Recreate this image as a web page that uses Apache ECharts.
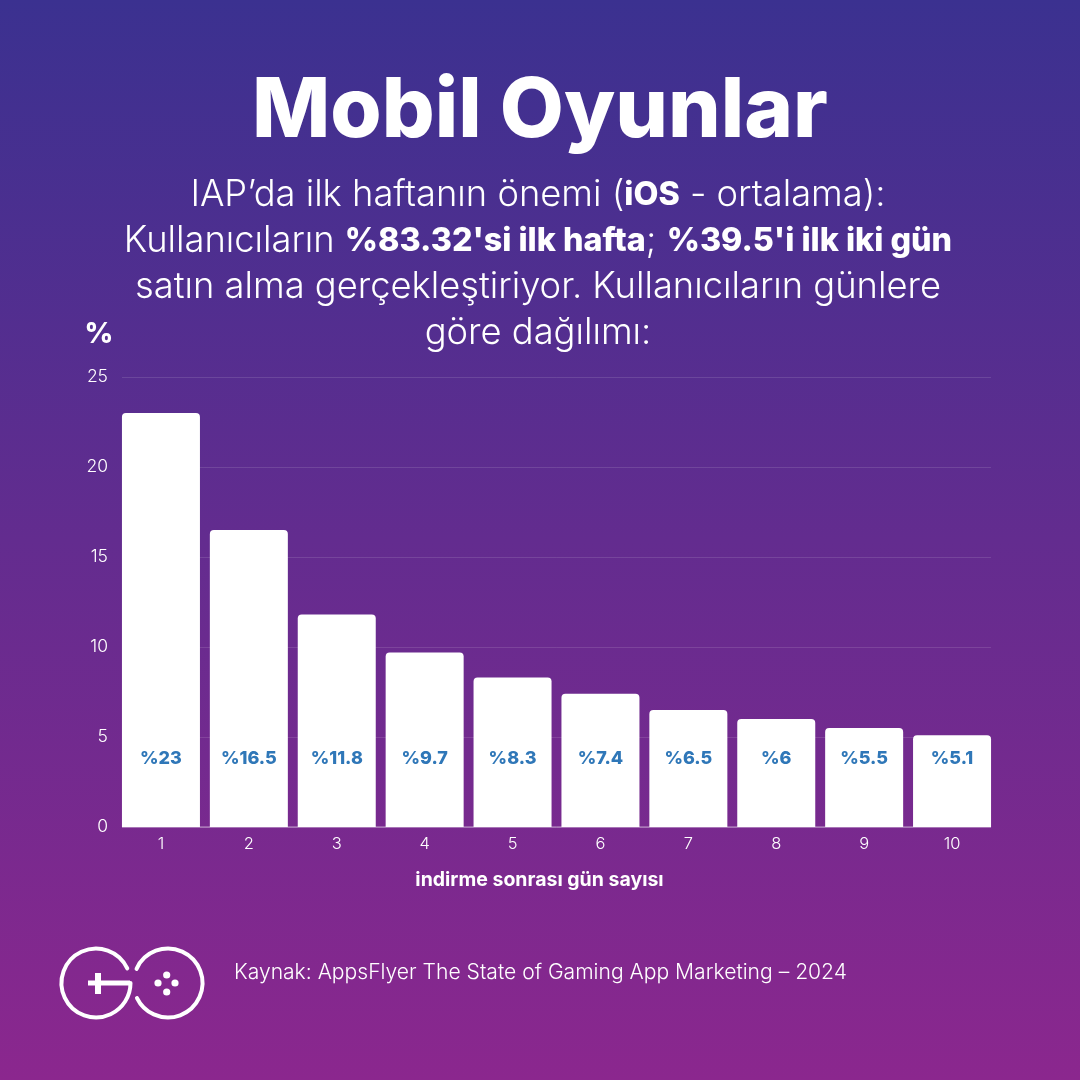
<!DOCTYPE html>
<html><head><meta charset="utf-8">
<style>html,body{margin:0;padding:0;width:1080px;height:1080px;overflow:hidden}#c{width:1080px;height:1080px}</style>
<script src="https://cdn.jsdelivr.net/npm/echarts@6/dist/echarts.min.js"></script></head>
<body><div id="c"></div>
<script>
const days = ['1','2','3','4','5','6','7','8','9','10'];
const shares = [23,16.5,11.8,9.7,8.3,7.4,6.5,6,5.5,5.1];
const yTicks = {min:0,max:25,interval:5};
const FONT = 'Inter';
const LINE = 'rgba(255,255,255,0.12)';
const sub = [
  {y:195,t:'{r|IAP’da ilk haftanın önemi (}{b|iOS}{r| - ortalama):}'},
  {y:241,t:'{r|Kullanıcıların }{b|%83.32\'si ilk hafta}{r|; }{b|%39.5\'i ilk iki gün}'},
  {y:287,t:'{r|satın alma gerçekleştiriyor. Kullanıcıların günlere}'},
  {y:333,t:'{r|göre dağılımı:}'}
];
const rich = {r:{fontFamily:FONT,fontSize:36.3,fontWeight:300,fill:'#fff',color:'#fff'},b:{fontFamily:FONT,fontSize:32.3,fontWeight:800,fill:'#fff',color:'#fff'}};
const rad = d => d*Math.PI/180;
const chart = echarts.init(document.getElementById('c'),null,{renderer:'canvas'});
chart.setOption({
  animation:false,
  backgroundColor:{type:'linear',x:0,y:0,x2:0,y2:1,colorStops:[{offset:0,color:'#3b3190'},{offset:1,color:'#8b278e'}]},
  grid:[
    {left:122,top:377,width:869,height:450},
    {left:117,top:377,width:879,height:450}
  ],
  xAxis:[
    {gridIndex:0,type:'category',data:days,show:false},
    {gridIndex:1,type:'category',data:days,
     axisTick:{show:false},
     axisLine:{show:false},
     axisLabel:{color:'#fff',fontFamily:FONT,fontSize:16.5,fontWeight:300,margin:9},
     name:'indirme sonrası gün sayısı',nameLocation:'middle',nameGap:43,
     nameTextStyle:{color:'#fff',fontFamily:FONT,fontSize:19.5,fontWeight:700,padding:[0,34,0,0]}}
  ],
  yAxis:[
    {gridIndex:0,type:'value',...yTicks,
     axisLine:{show:false},axisTick:{show:false},
     splitLine:{lineStyle:{color:LINE,width:1}},
     axisLabel:{color:'#fff',fontFamily:FONT,fontSize:17.5,fontWeight:300,margin:14,padding:[6,0,0,0]}},
    {gridIndex:1,type:'value',...yTicks,show:false}
  ],
  series:[
    {type:'bar',xAxisIndex:1,yAxisIndex:1,data:shares,barWidth:78,
     itemStyle:{color:'#fff',borderRadius:[4,4,0,0]},
     label:{show:true,position:'insideBottom',distance:59,formatter:p=>'%'+p.value,
       color:'#2f77b8',fontFamily:FONT,fontSize:18,fontWeight:800}}
  ],
  graphic:[
    {type:'text',z:10,x:540,y:112,style:{text:'Mobil Oyunlar',fontFamily:FONT,fontSize:83,fontWeight:800,fill:'#fff',align:'center',verticalAlign:'middle'}},
    ...sub.map(s=>({type:'text',z:10,x:538,y:s.y,style:{text:s.t,rich,align:'center',verticalAlign:'middle',fill:'#fff'}})),
    {type:'text',z:10,x:99,y:335,style:{text:'%',fontFamily:FONT,fontSize:28,fontWeight:800,fill:'#fff',align:'center',verticalAlign:'middle'}},
    {type:'text',z:10,x:234,y:973,style:{text:'Kaynak: AppsFlyer The State of Gaming App Marketing – 2024',fontFamily:FONT,fontSize:21.1,fontWeight:300,fill:'#fff',align:'left',verticalAlign:'middle'}},
    {type:'line',z:5,shape:{x1:122,y1:827,x2:991,y2:827},style:{stroke:'rgba(255,255,255,0.55)',lineWidth:1}},
    {type:'arc',z:10,shape:{cx:96,cy:983,r:34.5,startAngle:rad(-25),endAngle:0,clockwise:false},style:{fill:null,stroke:'#fff',lineWidth:4,lineCap:'round'}},
    {type:'line',z:10,shape:{x1:88,y1:983,x2:130,y2:983},style:{stroke:'#fff',lineWidth:5,lineCap:'butt'}},
    {type:'line',z:10,shape:{x1:98,y1:973,x2:98,y2:994},style:{stroke:'#fff',lineWidth:6,lineCap:'butt'}},
    {type:'arc',z:10,shape:{cx:168,cy:983,r:34.5,startAngle:rad(-155.7),endAngle:rad(154),clockwise:true},style:{fill:null,stroke:'#fff',lineWidth:4,lineCap:'round'}},
    ...[[166.7,975],[158,983],[175,983],[166.7,992]].map(([cx,cy])=>({type:'circle',z:10,shape:{cx,cy,r:3.6},style:{fill:'#fff'}}))
  ]
});
</script></body></html>
